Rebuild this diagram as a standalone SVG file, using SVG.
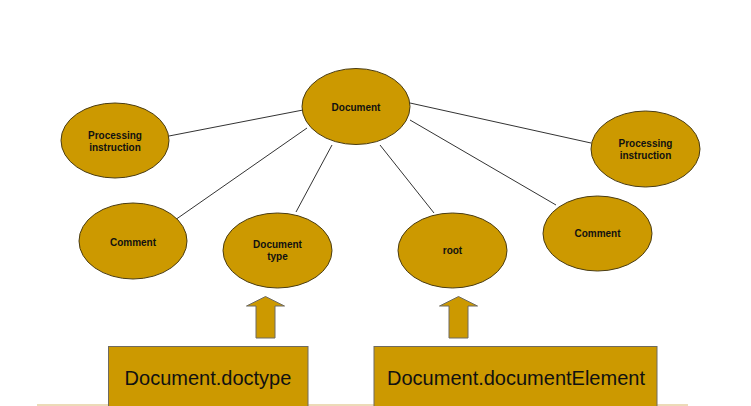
<svg xmlns="http://www.w3.org/2000/svg" width="751" height="406" viewBox="0 0 751 406">
<style>
.node ellipse{fill:#cc9900;stroke:#4a3c12;stroke-width:1}
.node text{font-family:"Liberation Sans",Arial,sans-serif;font-size:10px;font-weight:bold;fill:#111;text-anchor:middle}
.box rect{fill:#cc9900;stroke:#6e6a60;stroke-width:1}
.box text{font-family:"Liberation Sans",Arial,sans-serif;font-size:20px;fill:#111;text-anchor:middle}
.arrow{fill:#cc9900;stroke:#6e6a60;stroke-width:1}
#connectors line{stroke:#333;stroke-width:1}
</style>
<rect width="751" height="406" fill="#fff"/>
<g id="connectors">
<line x1="303" y1="110" x2="169" y2="136"/>
<line x1="307" y1="128" x2="175" y2="220"/>
<line x1="332" y1="145" x2="296" y2="212"/>
<line x1="380" y1="145" x2="434" y2="213"/>
<line x1="410" y1="120" x2="556" y2="205"/>
<line x1="410" y1="103" x2="591" y2="143"/>
</g>
<g id="document" class="node"><ellipse cx="356" cy="106.5" rx="54" ry="38"/><text x="356" y="110.5">Document</text></g>
<g id="pi-left" class="node"><ellipse cx="115" cy="140.5" rx="54" ry="37.5"/><text x="115" y="138.5">Processing</text><text x="115" y="150.5">instruction</text></g>
<g id="comment-left" class="node"><ellipse cx="133" cy="241" rx="54" ry="38"/><text x="133" y="245.5">Comment</text></g>
<g id="doctype" class="node"><ellipse cx="277.5" cy="250.5" rx="54.5" ry="37.5"/><text x="277.5" y="247.5">Document</text><text x="277.5" y="260">type</text></g>
<g id="root" class="node"><ellipse cx="452.5" cy="250.5" rx="54.5" ry="37.5"/><text x="452.5" y="253.5">root</text></g>
<g id="comment-right" class="node"><ellipse cx="597.5" cy="233.5" rx="54.5" ry="37.5"/><text x="597.5" y="237">Comment</text></g>
<g id="pi-right" class="node"><ellipse cx="645.5" cy="149" rx="54.5" ry="38"/><text x="645.5" y="146.5">Processing</text><text x="645.5" y="158.5">instruction</text></g>
<g id="arrow-doctype"><polygon class="arrow" points="256,338 256,306 246.5,306 265.5,296.5 284.5,306 275,306 275,338"/></g>
<g id="arrow-root"><polygon class="arrow" points="449,338 449,306 439.5,306 458.5,296.5 477.5,306 468,306 468,338"/></g>
<line x1="37" y1="405" x2="688" y2="405" stroke="#d9b873" stroke-width="1.2"/>
<g id="box-doctype" class="box"><rect x="108.5" y="346.5" width="199.5" height="62"/><text x="208" y="385">Document.doctype</text></g>
<g id="box-documentElement" class="box"><rect x="374" y="346.5" width="283" height="62"/><text x="516" y="384.5">Document.documentElement</text></g>
</svg>
